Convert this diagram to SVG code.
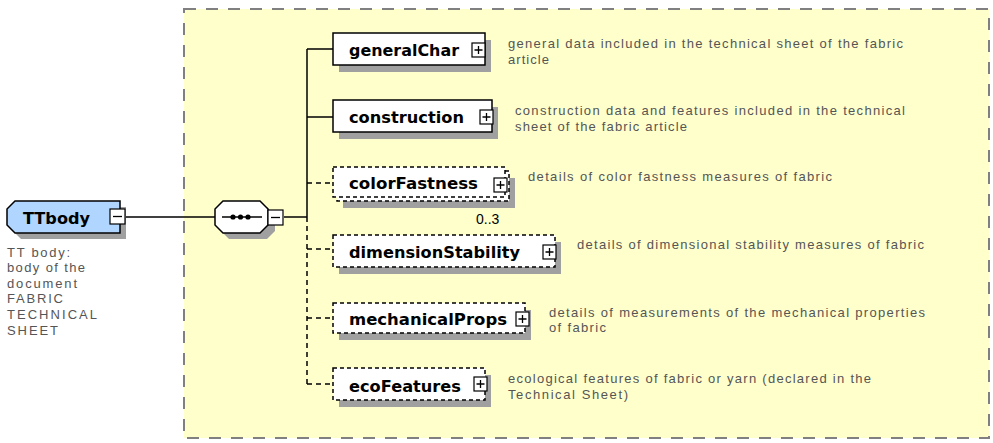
<svg xmlns="http://www.w3.org/2000/svg" width="993" height="443" viewBox="0 0 993 443">
  <style>
    .shadow { fill: #a0a0a0; }
    .box { fill: #ffffff; stroke: #000; stroke-width: 1.5; }
    .opt { fill: #ffffff; stroke: #000; stroke-width: 1.5; stroke-dasharray: 4 3; }
    .name { font-family: "DejaVu Sans", "Liberation Sans", sans-serif; font-weight: bold; font-size: 15px; fill: #000; }
    .doc { font-family: "Liberation Sans", Arial, sans-serif; font-size: 13px; fill: #555555; }
    .conn { stroke: #000; stroke-width: 1.5; fill: none; }
    .dash { stroke-dasharray: 5 4; }
    .tog { fill: #fff; stroke: #000; stroke-width: 1.2; }
  </style>
  <defs>
    <g id="plus">
      <rect class="tog" x="0" y="0" width="13" height="14"/>
      <path d="M2.5 7H10.5M6.5 3V11" stroke="#000" stroke-width="1.3"/>
    </g>
    <g id="minus">
      <rect class="tog" x="0" y="0" width="15" height="15"/>
      <path d="M3 7.5H12" stroke="#000" stroke-width="1.3"/>
    </g>
  </defs>

  <rect width="993" height="443" fill="#ffffff"/>

  <!-- content model frame -->
  <rect x="184" y="9" width="805" height="429" fill="#ffffcc" stroke="#808080" stroke-width="2" stroke-dasharray="12 10"/>

  <!-- connectors -->
  <g id="connectors">
    <path class="conn" d="M125 217H215"/>
    <path class="conn" d="M284 217H307"/>
    <path class="conn" d="M307 49V217"/>
    <path class="conn dash" d="M307 217V384"/>
    <path class="conn" d="M307 49H333M307 117H333"/>
    <path class="conn dash" d="M307 183H333M307 249H333M307 318H333M307 384H333"/>
  </g>

  <!-- root element -->
  <g id="TTbody">
    <path class="shadow" d="M21 207H126V239H21L13 231V215Z"/>
    <path d="M15 201H120V233H15L7 225V209Z" fill="#b0d6ff" stroke="#000" stroke-width="1.5"/>
    <text class="name" x="23" y="224" font-size="16" textLength="67" lengthAdjust="spacingAndGlyphs">TTbody</text>
    <use href="#minus" x="110" y="209"/>
    <g class="doc">
      <text x="7" y="257" textLength="63">TT body:</text>
      <text x="7" y="272" textLength="78">body of the</text>
      <text x="7" y="288" textLength="70">document</text>
      <text x="7" y="303" textLength="56">FABRIC</text>
      <text x="7" y="319" textLength="90">TECHNICAL</text>
      <text x="7" y="335" textLength="51">SHEET</text>
    </g>
  </g>

  <!-- sequence compositor -->
  <g id="sequence">
    <path class="shadow" d="M229 207H267L275 215V231L267 239H229L221 231V215Z"/>
    <path d="M223 201H260L268 209V225L260 233H223L215 225V209Z" fill="#fff" stroke="#000" stroke-width="1.5"/>
    <path d="M222 217H262" stroke="#000" stroke-width="1.3"/>
    <circle cx="233" cy="217" r="2.6"/>
    <circle cx="240.5" cy="217" r="2.6"/>
    <circle cx="248" cy="217" r="2.6"/>
    <use href="#minus" x="268" y="210"/>
  </g>

  <!-- child elements -->
  <g id="generalChar">
    <rect class="shadow" x="339" y="40" width="152" height="32"/>
    <rect class="box" x="333" y="33" width="152" height="32"/>
    <text class="name" x="349" y="56" textLength="110" lengthAdjust="spacingAndGlyphs">generalChar</text>
    <use href="#plus" x="472" y="43"/>
    <g class="doc">
      <text x="508" y="48" textLength="395">general data included in the technical sheet of the fabric</text>
      <text x="508" y="64" textLength="41">article</text>
    </g>
  </g>

  <g id="construction">
    <rect class="shadow" x="339" y="107" width="159" height="32"/>
    <rect class="box" x="333" y="100" width="159" height="32"/>
    <text class="name" x="349" y="123" textLength="115" lengthAdjust="spacingAndGlyphs">construction</text>
    <use href="#plus" x="480" y="110"/>
    <g class="doc">
      <text x="515" y="115" textLength="390">construction data and features included in the technical</text>
      <text x="515" y="131" textLength="172">sheet of the fabric article</text>
    </g>
  </g>

  <g id="colorFastness">
    <rect class="shadow" x="343" y="178" width="172" height="30"/>
    <rect class="opt" x="337" y="171" width="172" height="30"/>
    <rect class="opt" x="333" y="167" width="172" height="30"/>
    <text class="name" x="349" y="189" textLength="129" lengthAdjust="spacingAndGlyphs">colorFastness</text>
    <use href="#plus" x="494" y="178"/>
    <text x="476" y="224" font-family="Liberation Sans, Arial, sans-serif" font-size="14" fill="#000">0..3</text>
    <text class="doc" x="528" y="181" textLength="304">details of color fastness measures of fabric</text>
  </g>

  <g id="dimensionStability">
    <rect class="shadow" x="339" y="242" width="222" height="32"/>
    <rect class="opt" x="333" y="235" width="222" height="32"/>
    <text class="name" x="349" y="258" textLength="171" lengthAdjust="spacingAndGlyphs">dimensionStability</text>
    <use href="#plus" x="543" y="245"/>
    <text class="doc" x="577" y="249" textLength="347">details of dimensional stability measures of fabric</text>
  </g>

  <g id="mechanicalProps">
    <rect class="shadow" x="339" y="310" width="192" height="30"/>
    <rect class="opt" x="333" y="303" width="192" height="30"/>
    <text class="name" x="349" y="325" textLength="158" lengthAdjust="spacingAndGlyphs">mechanicalProps</text>
    <use href="#plus" x="516" y="312"/>
    <g class="doc">
      <text x="549" y="317" textLength="376">details of measurements of the mechanical properties</text>
      <text x="549" y="332" textLength="57">of fabric</text>
    </g>
  </g>

  <g id="ecoFeatures">
    <rect class="shadow" x="339" y="375" width="152" height="32"/>
    <rect class="opt" x="333" y="368" width="152" height="32"/>
    <text class="name" x="349" y="392" textLength="112" lengthAdjust="spacingAndGlyphs">ecoFeatures</text>
    <use href="#plus" x="474" y="377"/>
    <g class="doc">
      <text x="508" y="383" textLength="363">ecological features of fabric or yarn (declared in the</text>
      <text x="508" y="399" textLength="120">Technical Sheet)</text>
    </g>
  </g>
</svg>
